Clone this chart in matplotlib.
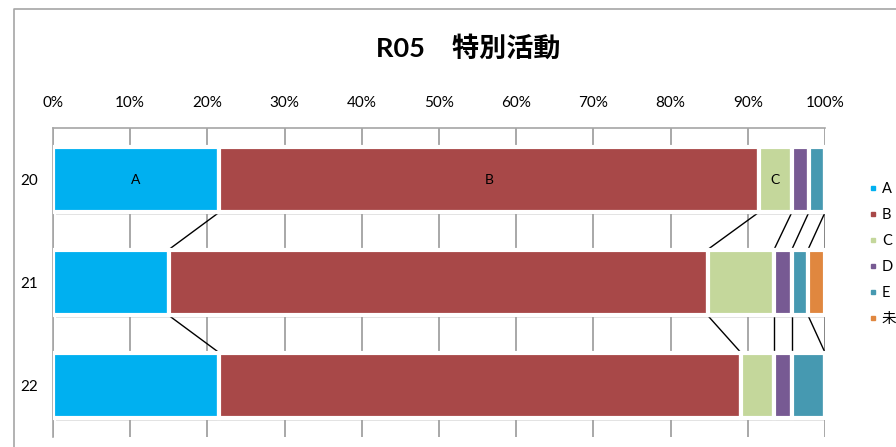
import matplotlib
matplotlib.use("Agg")
import matplotlib.pyplot as plt
import matplotlib.patheffects as pe
from matplotlib.lines import Line2D
import numpy as np

plt.rcParams['font.family'] = ['Lato', 'Noto Sans CJK JP', 'DejaVu Sans']

title = "R05\u3000特別活動"
categories = ["20", "21", "22"]
series = ["A", "B", "C", "D", "E", "未"]
colors = ["#00B0F0", "#A84848", "#C4D79B", "#775A93", "#4699B1", "#E0873F"]
vals_A = [21.5, 15.0, 21.5]
vals_B = [69.9, 69.8, 67.6]
vals_C = [4.3, 8.6, 4.3]
vals_D = [2.2, 2.3, 2.3]
vals_E = [2.1, 2.1, 4.3]
vals_U = [0.0, 2.2, 0.0]
data = np.array([vals_A, vals_B, vals_C, vals_D, vals_E, vals_U])  # series x category
labeled_category = "20"
labeled_series = ["A", "B", "C"]
xticks = [0, 10, 20, 30, 40, 50, 60, 70, 80, 90, 100]
xticklabels = [f"{t}%" for t in xticks]

W, H = 896, 447
fig = plt.figure(figsize=(W / 100, H / 100), dpi=100)
ax = fig.add_axes([53 / W, 1 - 437 / H, (825 - 53) / W, (437 - 128) / H])

# outer chart border
fig.add_artist(Line2D([14 / W, 14 / W, 1.0], [0.0, 1 - 9 / H, 1 - 9 / H],
                      transform=fig.transFigure, color="#A6A6A6", lw=1.2))

ypos = np.arange(len(categories))
h = 0.64
totals = data.sum(axis=0)
pct = data / totals * 100
left = np.zeros(len(categories))
cum = []
for s, name in enumerate(series):
    bars = ax.barh(ypos, pct[s], left=left, height=h, color=colors[s],
                   edgecolor="white", linewidth=3, zorder=3)
    for b in bars:
        b.set_path_effects([pe.SimplePatchShadow(offset=(2, -2), shadow_rgbFace="#888888", alpha=0.25),
                            pe.Normal()])
    for i, cat in enumerate(categories):
        if cat == labeled_category and name in labeled_series:
            ax.text(left[i] + pct[s, i] / 2, ypos[i], name, ha="center", va="center",
                    fontsize=10, color="black", zorder=5)
    left = left + pct[s]
    cum.append(left.copy())

# series lines
for s in range(len(series)):
    for i in range(len(categories) - 1):
        ax.plot([cum[s][i], cum[s][i + 1]], [ypos[i] + h / 2, ypos[i + 1] - h / 2],
                color="black", lw=1.0, zorder=2)

ax.set_xlim(0, 100)
ax.set_ylim(len(categories) - 0.5, -0.5)
ax.set_yticks(ypos)
ax.set_yticklabels(categories, fontsize=11)
ax.set_xticks(xticks)
ax.set_xticklabels(xticklabels, fontsize=11)
ax.xaxis.tick_top()
ax.tick_params(axis="both", length=0)
ax.tick_params(axis="x", pad=13)
ax.tick_params(axis="y", pad=11)
ax.grid(axis="x", color="#9A9A9A", lw=1.2, zorder=0)
ax.set_axisbelow(True)
for sp in ["right", "bottom"]:
    ax.spines[sp].set_visible(False)
for sp in ["top", "left"]:
    ax.spines[sp].set_color("#A6A6A6")
    ax.spines[sp].set_linewidth(1.2)

fig.text(468 / W, 1 - 48 / H, title, ha="center", va="center", fontsize=19.5, fontweight="bold")

handles = [Line2D([], [], marker="s", linestyle="none", markersize=3.2,
                  markerfacecolor=c, markeredgecolor=c) for c in colors]
fig.legend(handles, series, loc="upper left", bbox_to_anchor=(860 / W, 1 - 176 / H),
           frameon=False, fontsize=10.5, labelspacing=0.82, handletextpad=0.1,
           handlelength=1.0, borderaxespad=0)

fig.savefig("out.png", dpi=100)
